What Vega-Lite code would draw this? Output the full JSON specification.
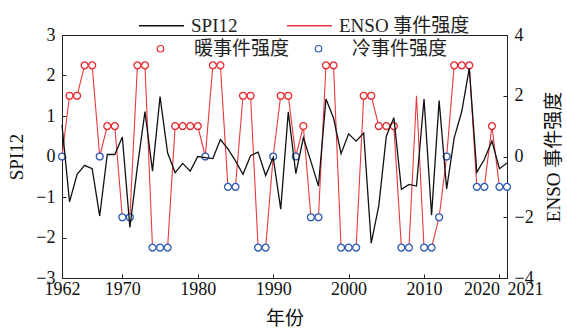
{
  "$schema": "https://vega.github.io/schema/vega-lite/v6.json",
  "width": 445,
  "height": 243,
  "autosize": {"type": "none"},
  "padding": {"left": 62, "top": 35, "right": 60, "bottom": 53},
  "background": "white",
  "config": {
    "font": "Liberation Serif, Noto Sans CJK SC",
    "view": {"stroke": "#222", "strokeWidth": 1},
    "axis": {
      "grid": false,
      "domainColor": "#222",
      "tickColor": "#222",
      "labelColor": "#111",
      "titleColor": "#111",
      "labelFont": "Liberation Serif, Noto Sans CJK SC",
      "titleFont": "Liberation Serif, Noto Sans CJK SC",
      "labelFontSize": 18,
      "titleFontSize": 19,
      "titleFontWeight": "normal",
      "tickSize": -4,
      "labelPadding": 6
    },
    "legend": {
      "labelFont": "Liberation Serif, Noto Sans CJK SC",
      "labelFontSize": 19,
      "labelColor": "#222",
      "padding": 0
    }
  },
  "data": {
    "values": [
      {"year": 1962, "spi": 0.78, "enso": 0, "type": "冷事件强度"},
      {"year": 1963, "spi": -1.12, "enso": 2, "type": "暖事件强度"},
      {"year": 1964, "spi": -0.44, "enso": 2, "type": "暖事件强度"},
      {"year": 1965, "spi": -0.22, "enso": 3, "type": "暖事件强度"},
      {"year": 1966, "spi": -0.3, "enso": 3, "type": "暖事件强度"},
      {"year": 1967, "spi": -1.47, "enso": 0, "type": "冷事件强度"},
      {"year": 1968, "spi": 0.05, "enso": 1, "type": "暖事件强度"},
      {"year": 1969, "spi": 0.05, "enso": 1, "type": "暖事件强度"},
      {"year": 1970, "spi": 0.48, "enso": -2, "type": "冷事件强度"},
      {"year": 1971, "spi": -1.75, "enso": -2, "type": "冷事件强度"},
      {"year": 1972, "spi": -0.25, "enso": 3, "type": "暖事件强度"},
      {"year": 1973, "spi": 1.11, "enso": 3, "type": "暖事件强度"},
      {"year": 1974, "spi": -0.36, "enso": -3, "type": "冷事件强度"},
      {"year": 1975, "spi": 1.48, "enso": -3, "type": "冷事件强度"},
      {"year": 1976, "spi": 0.09, "enso": -3, "type": "冷事件强度"},
      {"year": 1977, "spi": -0.4, "enso": 1, "type": "暖事件强度"},
      {"year": 1978, "spi": -0.17, "enso": 1, "type": "暖事件强度"},
      {"year": 1979, "spi": -0.36, "enso": 1, "type": "暖事件强度"},
      {"year": 1980, "spi": 0.0, "enso": 1, "type": "暖事件强度"},
      {"year": 1981, "spi": -0.03, "enso": 0, "type": "冷事件强度"},
      {"year": 1982, "spi": -0.05, "enso": 3, "type": "暖事件强度"},
      {"year": 1983, "spi": 0.42, "enso": 3, "type": "暖事件强度"},
      {"year": 1984, "spi": 0.19, "enso": -1, "type": "冷事件强度"},
      {"year": 1985, "spi": -0.11, "enso": -1, "type": "冷事件强度"},
      {"year": 1986, "spi": -0.44, "enso": 2, "type": "暖事件强度"},
      {"year": 1987, "spi": 0.02, "enso": 2, "type": "暖事件强度"},
      {"year": 1988, "spi": 0.11, "enso": -3, "type": "冷事件强度"},
      {"year": 1989, "spi": -0.47, "enso": -3, "type": "冷事件强度"},
      {"year": 1990, "spi": -0.02, "enso": 0, "type": "冷事件强度"},
      {"year": 1991, "spi": -1.3, "enso": 2, "type": "暖事件强度"},
      {"year": 1992, "spi": 1.1, "enso": 2, "type": "暖事件强度"},
      {"year": 1993, "spi": -0.42, "enso": 0, "type": "冷事件强度"},
      {"year": 1994, "spi": 0.46, "enso": 1, "type": "暖事件强度"},
      {"year": 1995, "spi": -0.12, "enso": -2, "type": "冷事件强度"},
      {"year": 1996, "spi": -0.73, "enso": -2, "type": "冷事件强度"},
      {"year": 1997, "spi": 1.42, "enso": 3, "type": "暖事件强度"},
      {"year": 1998, "spi": 0.95, "enso": 3, "type": "暖事件强度"},
      {"year": 1999, "spi": 0.07, "enso": -3, "type": "冷事件强度"},
      {"year": 2000, "spi": 0.56, "enso": -3, "type": "冷事件强度"},
      {"year": 2001, "spi": 0.38, "enso": -3, "type": "冷事件强度"},
      {"year": 2002, "spi": 0.58, "enso": 2, "type": "暖事件强度"},
      {"year": 2003, "spi": -2.14, "enso": 2, "type": "暖事件强度"},
      {"year": 2004, "spi": -1.22, "enso": 1, "type": "暖事件强度"},
      {"year": 2005, "spi": 0.5, "enso": 1, "type": "暖事件强度"},
      {"year": 2006, "spi": 0.96, "enso": 1, "type": "暖事件强度"},
      {"year": 2007, "spi": -0.81, "enso": -3, "type": "冷事件强度"},
      {"year": 2008, "spi": -0.69, "enso": -3, "type": "冷事件强度"},
      {"year": 2009, "spi": -0.73, "enso": 2, "type": null},
      {"year": 2010, "spi": 1.42, "enso": -3, "type": "冷事件强度"},
      {"year": 2011, "spi": -1.45, "enso": -3, "type": "冷事件强度"},
      {"year": 2012, "spi": 1.38, "enso": -2, "type": "冷事件强度"},
      {"year": 2013, "spi": -0.8, "enso": 0, "type": "冷事件强度"},
      {"year": 2014, "spi": 0.46, "enso": 3, "type": "暖事件强度"},
      {"year": 2015, "spi": 1.11, "enso": 3, "type": "暖事件强度"},
      {"year": 2016, "spi": 2.18, "enso": 3, "type": "暖事件强度"},
      {"year": 2017, "spi": -0.39, "enso": -1, "type": "冷事件强度"},
      {"year": 2018, "spi": -0.07, "enso": -1, "type": "冷事件强度"},
      {"year": 2019, "spi": 0.38, "enso": 1, "type": "暖事件强度"},
      {"year": 2020, "spi": -0.3, "enso": -1, "type": "冷事件强度"},
      {"year": 2021, "spi": -0.16, "enso": -1, "type": "冷事件强度"}
    ]
  },
  "encoding": {
    "x": {
      "field": "year",
      "type": "quantitative",
      "scale": {"domain": [1962, 2021], "nice": false, "zero": false},
      "axis": {
        "title": "年份",
        "values": [1962, 1970, 1980, 1990, 2000, 2010, 2020, 2021],
        "format": "d",
        "labelOverlap": false,
        "labelFlush": false,
        "labelAlign": {
          "condition": [
            {"test": "datum.value == 2020", "value": "right"},
            {"test": "datum.value == 2021", "value": "left"}
          ],
          "value": "center"
        },
        "titlePadding": 11
      }
    }
  },
  "layer": [
    {
      "layer": [
        {
          "mark": {"type": "line", "strokeWidth": 1.1},
          "encoding": {
            "y": {
              "field": "enso",
              "type": "quantitative",
              "scale": {"domain": [-4, 4], "nice": false},
              "axis": {
                "orient": "right",
                "title": "ENSO 事件强度",
                "values": [-4, -2, 0, 2, 4],
                "titleAngle": -90,
                "labelPadding": 11,
                "titlePadding": 30
              }
            },
            "color": {
              "datum": "ENSO 事件强度",
              "type": "nominal",
              "scale": {"domain": ["SPI12", "ENSO 事件强度"], "range": ["#111111", "#e8393f"]},
              "legend": {
                "orient": "none",
                "legendX": 76,
                "legendY": -33,
                "direction": "horizontal",
                "title": null,
                "symbolType": "stroke",
                "symbolSize": 2025,
                "symbolStrokeWidth": 1.3,
                "labelOffset": 6,
                "columnPadding": 46,
                "gridAlign": "each"
              }
            }
          }
        },
        {
          "transform": [{"filter": "datum.type != null"}],
          "mark": {"type": "point", "filled": true, "fill": "white", "size": 48, "strokeWidth": 1.3, "opacity": 1},
          "encoding": {
            "y": {"field": "enso", "type": "quantitative"},
            "stroke": {
              "field": "type",
              "type": "nominal",
              "scale": {"domain": ["暖事件强度", "冷事件强度"], "range": ["#e8262c", "#2b58b2"]},
              "legend": {
                "orient": "none",
                "legendX": 89,
                "legendY": 4,
                "direction": "horizontal",
                "title": null,
                "symbolType": "circle",
                "symbolSize": 42,
                "symbolStrokeWidth": 1.2,
                "symbolFillColor": "white",
                "labelOffset": 24,
                "columnPadding": 19,
                "gridAlign": "each"
              }
            }
          }
        }
      ]
    },
    {
      "mark": {"type": "line", "strokeWidth": 1.3},
      "encoding": {
        "y": {
          "field": "spi",
          "type": "quantitative",
          "scale": {"domain": [-3, 3], "nice": false},
          "axis": {"orient": "left", "title": "SPI12", "values": [-3, -2, -1, 0, 1, 2, 3], "labelPadding": 11, "titlePadding": 9}
        },
        "color": {"datum": "SPI12", "type": "nominal"}
      }
    }
  ],
  "resolve": {"scale": {"y": "independent"}}
}
